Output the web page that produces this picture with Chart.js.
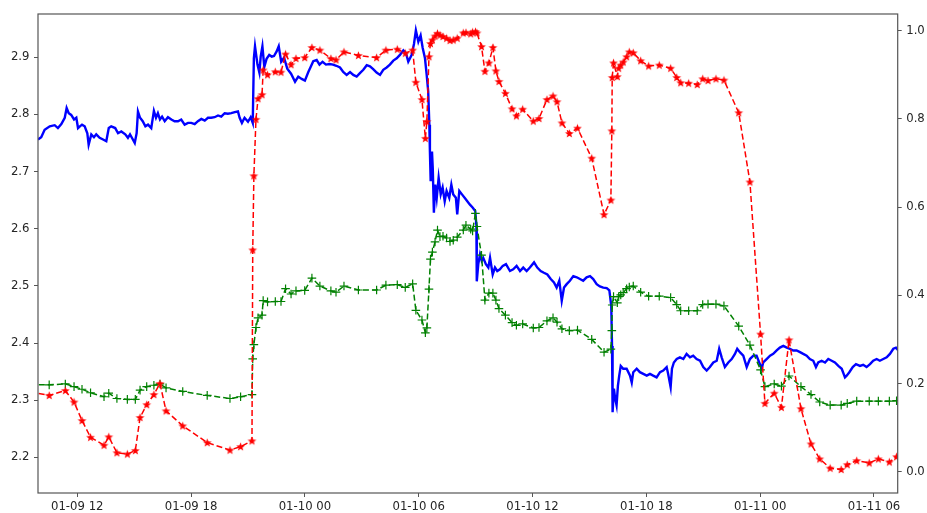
<!DOCTYPE html>
<html>
<head>
<meta charset="utf-8">
<script src="https://cdn.jsdelivr.net/npm/chart.js@4.4.1/dist/chart.umd.min.js"></script>
<style>
  html, body { margin: 0; padding: 0; background: #ffffff; }
  canvas { display: block; }
</style>
</head>
<body>
<canvas id="chart" width="927" height="513"></canvas>
<script>
// Time is given in hours since 01-09 00:00.

// Price series (left axis)
const blueHours = [
  9.93,10.10,10.28,10.55,10.81,10.98,11.16,11.34,11.44,11.55,11.68,11.83,11.95,12.04,12.14,12.25,12.39,12.53,12.60,12.74,
  12.88,13.00,13.18,13.36,13.53,13.66,13.79,14.00,14.15,14.32,14.53,14.67,14.78,14.88,15.03,15.13,15.20,15.31,15.45,15.59,
  15.73,15.90,16.04,16.15,16.25,16.36,16.47,16.61,16.78,16.96,17.13,17.31,17.48,17.66,17.84,18.01,18.19,18.36,18.54,18.72,
  18.89,19.06,19.24,19.42,19.59,19.77,19.94,20.12,20.30,20.47,20.56,20.68,20.82,21.00,21.14,21.25,21.31,21.37,21.50,21.60,
  21.67,21.76,21.86,21.98,22.12,22.25,22.37,22.51,22.62,22.75,22.90,23.07,23.27,23.48,23.65,23.83,24.00,24.18,24.32,24.44,
  24.62,24.77,24.93,25.11,25.30,25.48,25.66,25.85,26.02,26.20,26.38,26.55,26.73,26.90,27.08,27.26,27.43,27.60,27.78,27.96,
  28.13,28.31,28.48,28.66,28.84,29.01,29.19,29.33,29.45,29.63,29.75,29.85,29.98,30.10,30.21,30.33,30.42,30.50,30.56,30.59,
  30.63,30.70,30.74,30.80,30.87,30.95,31.05,31.16,31.26,31.37,31.47,31.61,31.72,31.82,31.96,32.03,32.14,32.28,32.42,32.56,
  32.70,32.84,32.98,33.04,33.06,33.14,33.23,33.32,33.40,33.54,33.67,33.76,33.90,34.02,34.14,34.28,34.43,34.60,34.81,34.98,
  35.16,35.34,35.51,35.69,35.86,36.08,36.25,36.43,36.60,36.78,36.96,37.13,37.27,37.41,37.54,37.66,37.80,37.97,38.15,38.33,
  38.50,38.67,38.85,39.03,39.20,39.38,39.55,39.73,39.91,40.05,40.15,40.19,40.22,40.29,40.36,40.43,40.50,40.57,40.65,40.78,
  40.96,41.14,41.23,41.31,41.49,41.66,41.84,42.02,42.19,42.36,42.54,42.72,42.89,43.07,43.15,43.28,43.35,43.45,43.60,43.77,
  43.95,44.12,44.30,44.47,44.65,44.83,45.00,45.18,45.35,45.53,45.71,45.84,45.97,46.14,46.32,46.50,46.67,46.79,46.93,47.11,
  47.29,47.46,47.64,47.81,47.95,48.08,48.16,48.34,48.52,48.69,48.87,49.04,49.22,49.40,49.57,49.74,49.92,50.10,50.27,50.45,
  50.62,50.80,50.94,51.06,51.24,51.42,51.59,51.77,51.94,52.12,52.30,52.47,52.56,52.70,52.88,53.05,53.26,53.43,53.61,53.79,
  53.96,54.14,54.31,54.49,54.67,54.84,55.02,55.16,55.28
];
const blueValues = [
  2.756,2.760,2.773,2.779,2.781,2.776,2.783,2.794,2.811,2.802,2.799,2.791,2.794,2.776,2.779,2.782,2.779,2.767,2.747,2.765,
  2.760,2.765,2.759,2.756,2.753,2.776,2.779,2.776,2.767,2.770,2.765,2.759,2.765,2.759,2.750,2.767,2.805,2.794,2.788,2.779,
  2.782,2.776,2.806,2.794,2.802,2.791,2.796,2.788,2.795,2.791,2.788,2.788,2.791,2.782,2.785,2.785,2.783,2.788,2.792,2.789,
  2.794,2.794,2.795,2.798,2.796,2.802,2.801,2.802,2.804,2.805,2.794,2.785,2.794,2.787,2.795,2.785,2.898,2.919,2.887,2.873,
  2.901,2.919,2.883,2.897,2.904,2.901,2.902,2.910,2.919,2.892,2.899,2.880,2.871,2.857,2.866,2.862,2.859,2.874,2.884,2.893,
  2.895,2.887,2.892,2.887,2.888,2.887,2.885,2.882,2.874,2.869,2.874,2.869,2.866,2.872,2.878,2.886,2.884,2.879,2.873,2.869,
  2.878,2.882,2.887,2.894,2.898,2.904,2.912,2.907,2.892,2.904,2.923,2.947,2.927,2.938,2.916,2.898,2.869,2.840,2.782,2.735,
  2.683,2.735,2.706,2.628,2.677,2.654,2.689,2.660,2.672,2.648,2.666,2.654,2.677,2.660,2.654,2.625,2.666,2.660,2.654,2.648,
  2.642,2.637,2.631,2.606,2.508,2.538,2.555,2.544,2.549,2.538,2.532,2.549,2.520,2.532,2.526,2.529,2.535,2.538,2.526,2.529,
  2.535,2.526,2.532,2.526,2.532,2.541,2.532,2.526,2.523,2.520,2.512,2.506,2.497,2.509,2.474,2.497,2.503,2.509,2.517,2.515,
  2.512,2.509,2.515,2.517,2.512,2.503,2.499,2.497,2.496,2.492,2.465,2.395,2.279,2.320,2.302,2.291,2.325,2.343,2.360,2.355,
  2.355,2.343,2.331,2.349,2.355,2.349,2.346,2.343,2.346,2.343,2.340,2.349,2.352,2.358,2.346,2.323,2.355,2.366,2.372,2.375,
  2.372,2.381,2.375,2.378,2.372,2.369,2.358,2.352,2.358,2.366,2.369,2.390,2.375,2.358,2.366,2.372,2.381,2.390,2.384,2.378,
  2.358,2.372,2.378,2.378,2.366,2.355,2.366,2.372,2.378,2.381,2.387,2.392,2.395,2.392,2.390,2.387,2.387,2.384,2.381,2.378,
  2.372,2.369,2.358,2.366,2.369,2.366,2.372,2.369,2.366,2.360,2.355,2.340,2.343,2.349,2.358,2.363,2.360,2.362,2.358,2.363,
  2.369,2.372,2.369,2.372,2.375,2.381,2.390,2.392,2.387
];

// Sampled series sharing one set of timestamps (right axis)
const markerHours = [
  9.50,10.52,11.37,11.83,12.25,12.70,13.41,13.66,14.09,14.64,15.06,15.31,15.66,16.04,16.36,16.68,17.56,18.85,20.05,20.61,
  21.21,21.25,21.31,21.42,21.53,21.74,21.80,22.03,22.44,22.74,22.98,23.27,23.53,23.99,24.37,24.79,25.37,25.64,26.06,26.82,
  27.78,28.27,28.87,29.29,29.68,29.85,30.17,30.35,30.43,30.54,30.62,30.72,30.86,30.99,31.12,31.28,31.47,31.65,31.82,32.03,
  32.35,32.49,32.74,32.84,32.99,33.07,33.31,33.49,33.70,33.91,34.07,34.23,34.57,34.92,35.15,35.48,36.04,36.34,36.76,37.08,
  37.29,37.55,37.94,38.37,39.12,39.77,40.13,40.18,40.20,40.27,40.47,40.54,40.65,40.78,40.96,41.10,41.31,41.70,42.12,42.68,
  43.28,43.60,43.81,44.23,44.68,44.97,45.25,45.67,46.09,46.87,47.46,48.02,48.25,48.74,49.12,49.52,50.15,50.68,51.14,51.69,
  52.27,52.59,53.09,53.75,54.23,54.81,55.19
];
const redSeries = [
  0.181,0.173,0.184,0.158,0.116,0.078,0.060,0.079,0.043,0.040,0.048,0.123,0.152,0.175,0.200,0.138,0.104,0.066,0.049,0.057,
  0.070,0.503,0.671,0.799,0.846,0.855,0.911,0.900,0.907,0.906,0.947,0.923,0.937,0.939,0.962,0.956,0.937,0.934,0.952,0.944,
  0.939,0.956,0.958,0.949,0.956,0.883,0.844,0.756,0.794,0.941,0.971,0.979,0.988,0.994,0.990,0.987,0.983,0.978,0.979,0.983,
  0.995,0.996,0.993,0.997,0.998,0.995,0.964,0.908,0.927,0.962,0.909,0.885,0.858,0.823,0.807,0.822,0.795,0.801,0.844,0.852,
  0.839,0.791,0.767,0.779,0.711,0.583,0.616,0.773,0.894,0.927,0.896,0.915,0.922,0.929,0.941,0.952,0.950,0.932,0.920,0.922,
  0.915,0.894,0.882,0.881,0.878,0.891,0.887,0.891,0.888,0.814,0.657,0.312,0.155,0.178,0.146,0.299,0.143,0.063,0.029,0.008,
  0.005,0.016,0.025,0.020,0.029,0.022,0.034
];
const greenSeries = [
  0.197,0.197,0.199,0.193,0.187,0.179,0.170,0.178,0.166,0.164,0.164,0.185,0.193,0.196,0.199,0.190,0.182,0.173,0.166,0.170,
  0.175,0.256,0.288,0.327,0.349,0.355,0.388,0.385,0.386,0.386,0.415,0.403,0.410,0.411,0.439,0.421,0.410,0.407,0.421,0.412,
  0.412,0.423,0.424,0.418,0.426,0.366,0.344,0.315,0.326,0.414,0.482,0.498,0.521,0.548,0.533,0.534,0.530,0.522,0.525,0.532,
  0.548,0.559,0.550,0.546,0.586,0.556,0.491,0.389,0.405,0.405,0.389,0.370,0.355,0.338,0.332,0.335,0.326,0.327,0.342,0.349,
  0.339,0.324,0.320,0.321,0.300,0.271,0.278,0.320,0.378,0.397,0.383,0.397,0.401,0.406,0.415,0.419,0.421,0.407,0.398,0.398,
  0.395,0.379,0.365,0.365,0.365,0.379,0.380,0.380,0.376,0.330,0.287,0.231,0.193,0.199,0.194,0.217,0.193,0.175,0.158,0.151,
  0.151,0.155,0.160,0.160,0.160,0.160,0.161
];

// Axis ticks
const xTickHours = [12, 18, 24, 30, 36, 42, 48, 54];
const leftTicks = [2.2, 2.3, 2.4, 2.5, 2.6, 2.7, 2.8, 2.9];
const rightTicks = [0.0, 0.2, 0.4, 0.6, 0.8, 1.0];

function hourLabel(h) {
  const day = 9 + Math.floor(h / 24);
  const hh = Math.round(h % 24);
  return '01-' + String(day).padStart(2, '0') + ' ' + String(hh).padStart(2, '0');
}

// Filled five-pointed star used as the red marker
function starMarker(color) {
  const size = 11, c = size / 2, outer = 4.6, inner = 1.9;
  const cv = document.createElement('canvas');
  cv.width = size; cv.height = size;
  const g = cv.getContext('2d');
  g.beginPath();
  for (let i = 0; i < 10; i++) {
    const r = i % 2 ? inner : outer;
    const a = -Math.PI / 2 + i * Math.PI / 5;
    const px = c + r * Math.cos(a), py = c + 0.4 + r * Math.sin(a);
    if (i === 0) g.moveTo(px, py); else g.lineTo(px, py);
  }
  g.closePath();
  g.fillStyle = color;
  g.fill();
  return cv;
}

const toPoints = (xs, ys) => xs.map((x, i) => ({ x: x, y: ys[i] }));

// Box around the plotting area
const frame = {
  id: 'frame',
  afterDatasetsDraw(chart) {
    const { ctx, chartArea: a } = chart;
    ctx.save();
    ctx.strokeStyle = '#555555';
    ctx.lineWidth = 1.2;
    ctx.strokeRect(a.left, a.top, a.right - a.left, a.bottom - a.top);
    ctx.restore();
  }
};

Chart.defaults.font.family = '"DejaVu Sans", sans-serif';
Chart.defaults.font.size = 11.7;
Chart.defaults.color = '#262626';

const axisGrid = { drawOnChartArea: false, drawTicks: true, tickLength: 4, color: '#555555', lineWidth: 1 };

new Chart(document.getElementById('chart'), {
  type: 'line',
  data: {
    datasets: [
      {
        data: toPoints(markerHours, redSeries),
        yAxisID: 'y2',
        borderColor: '#ff0000',
        borderWidth: 1.5,
        borderDash: [6, 3],
        pointStyle: starMarker('#ff0000'),
        pointRadius: 5,
        order: 0
      },
      {
        data: toPoints(markerHours, greenSeries),
        yAxisID: 'y2',
        borderColor: '#008000',
        borderWidth: 1.5,
        borderDash: [6, 3],
        pointStyle: 'cross',
        pointRadius: 4.3,
        pointBorderColor: '#008000',
        pointBorderWidth: 1.2,
        order: 1
      },
      {
        data: toPoints(blueHours, blueValues),
        yAxisID: 'y',
        borderColor: '#0000ff',
        borderWidth: 2.4,
        pointRadius: 0,
        order: 2
      }
    ]
  },
  options: {
    responsive: false,
    animation: false,
    devicePixelRatio: 1,
    layout: { padding: { top: 14, left: 0, right: 0, bottom: 0 } },
    plugins: { legend: { display: false }, tooltip: { enabled: false } },
    elements: { line: { tension: 0 } },
    scales: {
      x: {
        type: 'linear',
        position: 'bottom',
        min: 9.93,
        max: 55.25,
        afterBuildTicks: s => { s.ticks = xTickHours.map(v => ({ value: v })); },
        afterFit: s => { s.height = 20; },
        ticks: { callback: v => hourLabel(v), maxRotation: 0, autoSkip: false, padding: 3 },
        grid: axisGrid,
        border: { display: false }
      },
      y: {
        type: 'linear',
        position: 'left',
        min: 2.1377,
        max: 2.9755,
        afterBuildTicks: s => { s.ticks = leftTicks.map(v => ({ value: v })); },
        afterFit: s => { s.width = 38; },
        ticks: { callback: v => v.toFixed(1), padding: 4.5 },
        grid: axisGrid,
        border: { display: false }
      },
      y2: {
        type: 'linear',
        position: 'right',
        min: -0.0483,
        max: 1.0379,
        afterBuildTicks: s => { s.ticks = rightTicks.map(v => ({ value: v })); },
        afterFit: s => { s.width = 29.3; },
        ticks: { callback: v => v.toFixed(1), padding: 4.5 },
        grid: axisGrid,
        border: { display: false }
      }
    }
  },
  plugins: [frame]
});
</script>
</body>
</html>
